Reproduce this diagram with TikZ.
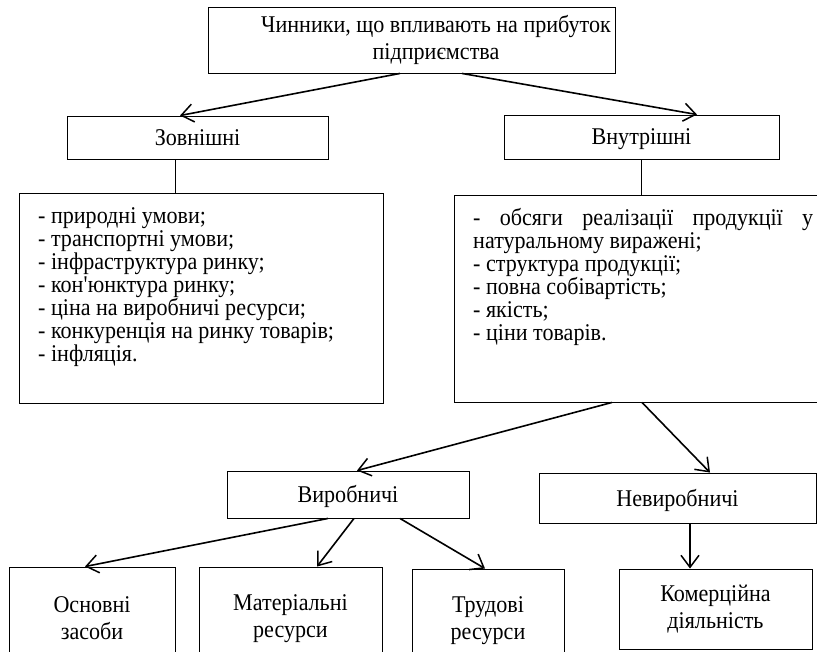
\documentclass[tikz,border=0pt]{standalone}
\usepackage{fontspec}
\setmainfont[FakeStretch=0.92]{Liberation Serif}
\usetikzlibrary{arrows.meta,positioning,calc}
\newcommand\tightlines{\lineskiplimit=-100pt\relax}
\tikzset{
  blk/.style={draw, line width=.9pt, align=center, inner sep=0pt, font=\fontsize{24}{27}\selectfont},
  hdr/.style={blk, text height=16pt, text depth=0pt},
  lst/.style={anchor=north west, align=left, inner sep=0pt, font=\fontsize{24}{23}\selectfont\tightlines},
  ar/.style={-{Straight Barb[length=12pt,width=18pt,line width=1.5pt]}, line width=1.6pt},
  ln/.style={line width=.9pt},
}
\begin{document}
\begin{tikzpicture}[x=1pt,y=-1pt]
  \useasboundingbox (0,0) rectangle (817,652);
  % top level
  \node[blk, minimum width=407, minimum height=66] (top) at (411.5,40) {};
  \node[blk, draw=none] (toptxt) at (436,40) {Чинники, що впливають на прибуток\\підприємства};
  \node[hdr, minimum width=261, minimum height=43] (zov) at (197.5,137.5) {Зовнішні};
  \node[hdr, minimum width=275, minimum height=44] (vnu) at (641.5,137) {Внутрішні};
  % lists
  \node[draw, ln, minimum width=364, minimum height=210] (lstL) at (201,298) {};
  \node[lst] (txtL) at (38,207) {- природні умови;\\- транспортні умови;\\- інфраструктура ринку;\\- кон\textquotesingle юнктура ринку;\\- ціна на виробничі ресурси;\\- конкуренція на ринку товарів;\\- інфляція.};
  \node[draw, ln, minimum width=376, minimum height=207] (lstR) at (642,298.5) {};
  \node[lst] (txtR) at (473,208) {\makebox[340pt][s]{- обсяги реалізації продукції у}\\натуральному виражені;\\- структура продукції;\\- повна собівартість;\\- якість;\\- ціни товарів.};
  % second level
  \node[hdr, minimum width=242, minimum height=47] (vyr) at (348,494.5) {Виробничі};
  \node[hdr, minimum width=277, minimum height=50] (nev) at (677.5,498) {Невиробничі};
  % resources
  \node[blk, minimum width=166, minimum height=103] (osn) at (92,618.5) {Основні\\засоби};
  \node[blk, minimum width=183, minimum height=103] (mat) at (290.5,618.5) {Матеріальні\\ресурси};
  \node[blk, minimum width=152, minimum height=103] (tru) at (488,620.5) {Трудові\\ресурси};
  \node[blk, minimum width=193, minimum height=80] (kom) at (715.5,609) {Комерційна\\діяльність};
  % connectors
  \draw[ar] ([xshift=-11.5]top.south) -- ([xshift=-17.5]zov.north);
  \draw[ar] ([xshift=50.5]top.south) -- ([xshift=55.5]vnu.north);
  \coordinate (zl) at ([xshift=-22.5]zov.south);
  \draw[ln] (zl) -- (zl |- lstL.north);
  \draw[ln] (vnu.south) -- (vnu.south |- lstR.north);
  \draw[ar] ([xshift=-30]lstR.south) -- ([xshift=9]vyr.north);
  \draw[ar] (lstR.south) -- ([xshift=32.5]nev.north);
  \draw[ar] ([xshift=-20]vyr.south) -- ([xshift=-7]osn.north);
  \draw[ar] ([xshift=6]vyr.south) -- ([xshift=26.5]mat.north);
  \draw[ar] ([xshift=52]vyr.south) -- ([xshift=-3]tru.north);
  \draw[ar] ([xshift=12.5]nev.south) -- ([xshift=-25.5]kom.north);
\end{tikzpicture}
\end{document}
